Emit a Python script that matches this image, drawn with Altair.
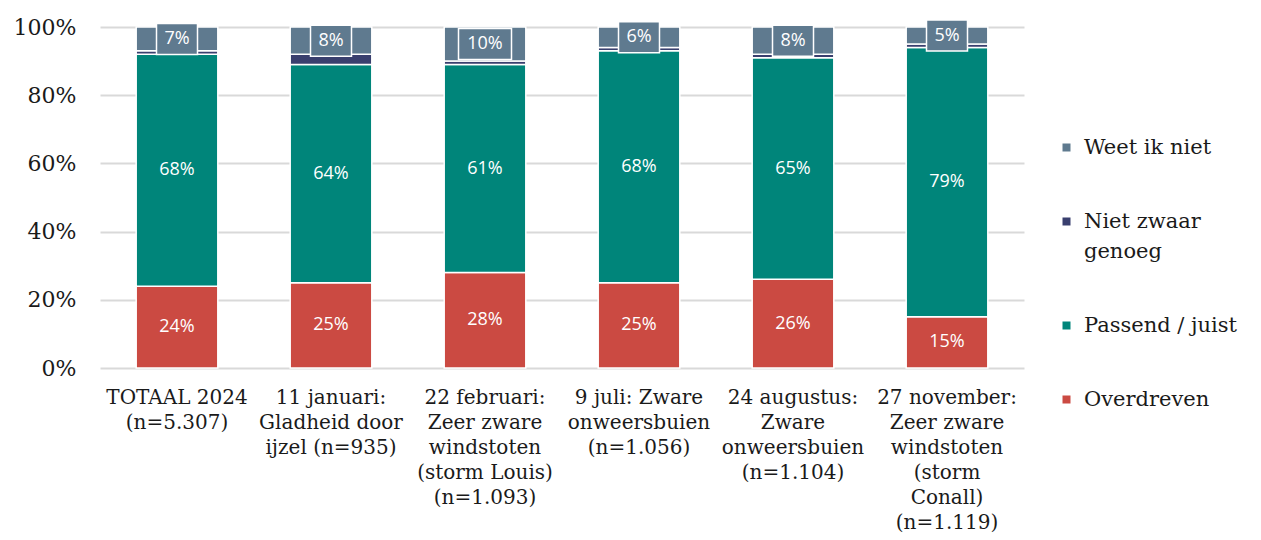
import altair as alt
import pandas as pd

categories = [
    "TOTAAL 2024\n(n=5.307)",
    "11 januari:\nGladheid door\nijzel (n=935)",
    "22 februari:\nZeer zware\nwindstoten\n(storm Louis)\n(n=1.093)",
    "9 juli: Zware\nonweersbuien\n(n=1.056)",
    "24 augustus:\nZware\nonweersbuien\n(n=1.104)",
    "27 november:\nZeer zware\nwindstoten\n(storm\nConall)\n(n=1.119)",
]
series = ["Overdreven", "Passend / juist", "Niet zwaar genoeg", "Weet ik niet"]
overdreven = [24, 25, 28, 25, 26, 15]
passend = [68, 64, 61, 68, 65, 79]
niet_zwaar = [1, 3, 1, 1, 1, 1]
weet_niet = [7, 8, 10, 6, 8, 5]
colors = ["#cb4a42", "#00857a", "#393f6e", "#5f7a8f"]

rows = []
for s_i, (s, vals) in enumerate(zip(series, [overdreven, passend, niet_zwaar, weet_niet])):
    for c_i, (c, v) in enumerate(zip(categories, vals)):
        rows.append({"cat": c, "serie": s, "order": s_i, "value": v, "catorder": c_i})
df = pd.DataFrame(rows)

serif = "DejaVu Serif"
sans = "Open Sans"

base = alt.Chart(df).transform_stack(
    stack="value", groupby=["cat"], as_=["v0", "v1"], sort=[alt.SortField("order", "ascending")]
).transform_calculate(mid="(datum.v0 + datum.v1) / 2", lbl="datum.value + '%'")

xenc = alt.X(
    "cat:N",
    sort=categories,
    title=None,
    scale=alt.Scale(paddingInner=0.47, paddingOuter=0.235),
    axis=alt.Axis(
        labelExpr="split(datum.label, '\\n')",
        labelAngle=0,
        labelFont=serif,
        labelFontSize=20,
        labelLineHeight=25,
        labelColor="#1a1a1a",
        labelPadding=19,
        domain=False,
        ticks=False,
        labelLimit=0,
    ),
)

bars = base.mark_bar(stroke="white", strokeWidth=1.5).encode(
    x=xenc,
    y=alt.Y(
        "v0:Q",
        title=None,
        scale=alt.Scale(domain=[0, 100], nice=False),
        axis=alt.Axis(
            values=[0, 20, 40, 60, 80, 100],
            labelExpr="datum.value + '%'",
            labelFont=serif,
            labelFontSize=22,
            labelColor="#1a1a1a",
            labelPadding=24,
            domain=False,
            ticks=False,
            gridColor="#d9d9d9",
            gridWidth=2,
        ),
    ),
    y2="v1:Q",
    color=alt.Color(
        "serie:N",
        scale=alt.Scale(domain=series[::-1], range=colors[::-1]),
        legend=alt.Legend(
            title=None,
            orient="none",
            legendX=956,
            legendY=110,
            symbolType="square",
            symbolSize=64,
            symbolStrokeWidth=0,
            labelFont=serif,
            labelFontSize=21,
            labelColor="#1a1a1a",
            labelOffset=7,
            rowPadding=52,
            labelExpr="datum.label == 'Niet zwaar genoeg' ? ['Niet zwaar', 'genoeg'] : datum.label",
            labelLimit=0,
        ),
    ),
)

xs = alt.X("cat:N", sort=categories)

inner_labels = base.transform_filter(
    "datum.serie == 'Overdreven' || datum.serie == 'Passend / juist'"
).mark_text(color="white", font=sans, fontSize=18).encode(x=xs, y="mid:Q", text="lbl:N")

weet = base.transform_filter("datum.serie == 'Weet ik niet'")

box_small = weet.transform_filter("datum.value < 10").mark_point(
    shape="M-1,-0.756H1V0.756H-1Z", size=1681, filled=True, fill="#5f7a8f",
    stroke="white", strokeWidth=1.5, opacity=1,
).encode(x=xs, y="mid:Q")

box_big = weet.transform_filter("datum.value >= 10").mark_point(
    shape="M-1,-0.585H1V0.585H-1Z", size=2809, filled=True, fill="#5f7a8f",
    stroke="white", strokeWidth=1.5, opacity=1,
).encode(x=xs, y="mid:Q")

weet_text = weet.mark_text(color="white", font=sans, fontSize=18).encode(
    x=xs, y="mid:Q", text="lbl:N"
)

chart = alt.layer(bars, inner_labels, box_small, box_big, weet_text).properties(
    width=924,
    height=341,
    autosize=alt.AutoSizeParams(type="none"),
    padding={"left": 92, "top": 19, "right": 229, "bottom": 170},
).configure(
    background="white",
    view=alt.ViewConfig(stroke=None),
    style={"guide-label": {"lineHeight": 30}},
)

chart.save("out.html", embed_options={"renderer": "svg", "actions": False})
